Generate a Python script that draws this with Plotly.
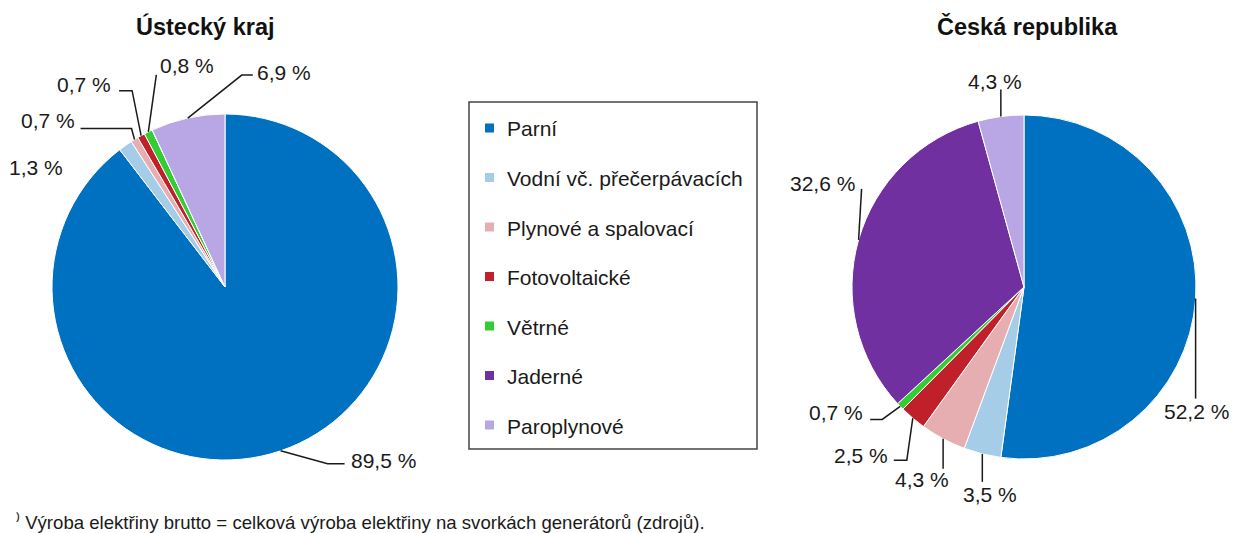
import math
import plotly.graph_objects as go

W, H = 1233, 533

categories = ["Parní", "Vodní vč. přečerpávacích", "Plynové a spalovací",
              "Fotovoltaické", "Větrné", "Jaderné", "Paroplynové"]
ustecky_values = [89.5, 1.3, 0.7, 0.7, 0.8, 0.0, 6.9]
cr_values = [52.2, 3.5, 4.3, 2.5, 0.7, 32.6, 4.3]
ustecky_labels = ["89,5 %", "1,3 %", "0,7 %", "0,7 %", "0,8 %", "", "6,9 %"]
cr_labels = ["52,2 %", "3,5 %", "4,3 %", "2,5 %", "0,7 %", "32,6 %", "4,3 %"]
titles = ["Ústecký kraj", "Česká republika"]
footnote = "⁾ Výroba elektřiny brutto = celková výroba elektřiny na svorkách generátorů (zdrojů)."

colors = ["#0070C0", "#A6CDE8", "#E7AEB2", "#C0202A", "#33CC33", "#7030A0", "#B9A6E4"]

# pie geometry (pixels)
pies = [
    dict(cx=225, cy=287, r=173, values=ustecky_values, labels=ustecky_labels),
    dict(cx=1024, cy=287, r=172, values=cr_values, labels=cr_labels),
]

# leader-line layout per slice: elbow offsets (relative to slice anchor),
# label offset and anchor
left_layout = [
    dict(pts=[(47, 13), (64, 13)], lab=(68, 10), xa="left"),
    dict(pts=[], lab=(-60, 22), xa="right"),
    dict(pts=[(-3, -11), (-54, -11)], lab=(-58, -19), xa="right"),
    dict(pts=[(-9, -45), (-22, -45)], lab=(-28, -51), xa="right"),
    dict(pts=[(8, -57)], lab=(10, -66), xa="left"),
    None,
    dict(pts=[(54, -43), (65, -43)], lab=(67, -46), xa="left"),
]
right_layout = [
    dict(pts=[(0, 100)], lab=(1, 113), xa="center"),
    dict(pts=[(0, 28)], lab=(8, 41), xa="center"),
    dict(pts=[(0, 30)], lab=(-21, 41), xa="center"),
    dict(pts=[(-6, 42), (-19, 42)], lab=(-23, 37), xa="right"),
    dict(pts=[(-18, 13), (-30, 13)], lab=(-35, 6), xa="right"),
    dict(pts=[(3, -51)], lab=(-2, -56), xa="right"),
    dict(pts=[(0, -27)], lab=(-6, -35), xa="center"),
]
layouts = [left_layout, right_layout]

def px(x):
    return x / W

def py(y):
    return 1 - y / H

fig = go.Figure()
annotations = []
shapes = []

for p, lay, title in zip(pies, layouts, titles):
    fig.add_trace(go.Pie(
        labels=categories, values=p["values"], sort=False, direction="clockwise",
        rotation=0, marker=dict(colors=colors, line=dict(color="white", width=1)),
        textinfo="none", hoverinfo="label+percent", showlegend=False,
        domain=dict(x=[px(p["cx"] - p["r"]), px(p["cx"] + p["r"])],
                    y=[py(p["cy"] + p["r"]), py(p["cy"] - p["r"])]),
    ))
    total = sum(p["values"])
    cum = 0.0
    for i, v in enumerate(p["values"]):
        mid = (cum + v / 2) / total * 2 * math.pi
        cum += v
        if v <= 0 or lay[i] is None:
            continue
        ax = p["cx"] + p["r"] * math.sin(mid)
        ay = p["cy"] - p["r"] * math.cos(mid)
        L = lay[i]
        if L["pts"]:
            path = "M {} {}".format(px(ax), py(ay))
            for dx, dy in L["pts"]:
                path += " L {} {}".format(px(ax + dx), py(ay + dy))
            shapes.append(dict(type="path", path=path, xref="paper", yref="paper",
                               line=dict(color="#1a1a1a", width=1.5)))
        annotations.append(dict(
            x=px(ax + L["lab"][0]), y=py(ay + L["lab"][1]), xref="paper", yref="paper",
            text=p["labels"][i], showarrow=False, xanchor=L["xa"], yanchor="middle",
            font=dict(family="Arial", size=21, color="#1a1a1a")))

# titles
for t, (tx, ty) in zip(titles, [(205, 27), (1027, 27)]):
    annotations.append(dict(x=px(tx), y=py(ty), xref="paper", yref="paper", text="<b>%s</b>" % t,
                            showarrow=False, xanchor="center", yanchor="middle",
                            font=dict(family="Arial", size=23.5, color="#111")))

# legend (manual)
lx0, ly0, lx1, ly1 = 469, 102, 757, 449
shapes.append(dict(type="rect", xref="paper", yref="paper", x0=px(lx0), x1=px(lx1),
                   y0=py(ly1), y1=py(ly0), line=dict(color="#444", width=1.5),
                   fillcolor="rgba(0,0,0,0)"))
step = 49.5
for i, (c, col) in enumerate(zip(categories, colors)):
    yc = 128 + i * step
    shapes.append(dict(type="rect", xref="paper", yref="paper", x0=px(485), x1=px(494),
                       y0=py(yc + 4.5), y1=py(yc - 4.5), line=dict(width=0), fillcolor=col))
    annotations.append(dict(x=px(505), y=py(yc + 1), xref="paper", yref="paper", text=c,
                            showarrow=False, xanchor="left", yanchor="middle",
                            font=dict(family="Arial", size=21, color="#1a1a1a")))

annotations.append(dict(x=px(14), y=py(522), xref="paper", yref="paper", text=footnote,
                        showarrow=False, xanchor="left", yanchor="middle",
                        font=dict(family="Arial", size=18.6, color="#1a1a1a")))

fig.update_layout(width=W, height=H, margin=dict(l=0, r=0, t=0, b=0),
                  paper_bgcolor="white", plot_bgcolor="white",
                  annotations=annotations, shapes=shapes, showlegend=False)

fig.write_html("out.html", config={"displayModeBar": False},
               post_script="document.body.style.margin='0';document.body.style.overflow='hidden';")
